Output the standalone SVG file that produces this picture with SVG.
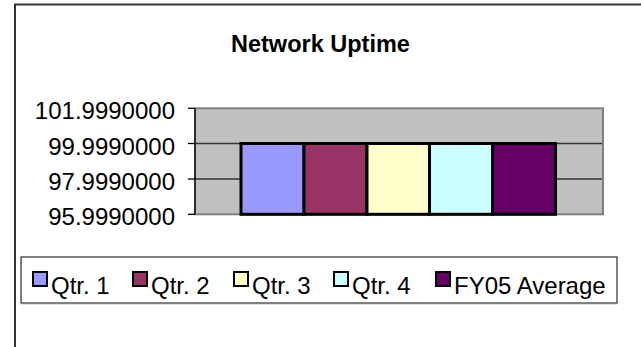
<svg xmlns="http://www.w3.org/2000/svg" width="641" height="347" viewBox="0 0 641 347">
<style>
text{font-family:"Liberation Sans",Arial,sans-serif;font-size:24px;fill:#000}
.title{font-weight:bold;font-size:23.5px}
.lbl{text-anchor:end}
.bar{stroke:#000;stroke-width:3}
.sw{stroke:#000;stroke-width:2}
.grid{stroke:#333;stroke-width:1.3}
.tick{stroke:#000;stroke-width:1.3}
</style>
<rect x="0" y="0" width="641" height="347" fill="#fff"/>
<g id="frame">
<path d="M15,347 V4.5 H641" fill="none" stroke="#333" stroke-width="2"/>
</g>
<g id="title"><text class="title" x="231" y="52">Network Uptime</text></g>
<g id="plot">
<rect x="195" y="108.3" width="408" height="106" fill="#C0C0C0" stroke="#808080" stroke-width="2"/>
<line class="grid" x1="195" y1="143.5" x2="602" y2="143.5"/>
<line class="grid" x1="195" y1="179" x2="602" y2="179"/>
</g>
<g id="axis">
<line class="tick" x1="195" y1="108.3" x2="195" y2="214.3"/>
<line class="tick" x1="188" y1="108.3" x2="195" y2="108.3"/>
<line class="tick" x1="188" y1="143.5" x2="195" y2="143.5"/>
<line class="tick" x1="188" y1="179" x2="195" y2="179"/>
<line class="tick" x1="188" y1="214.3" x2="195" y2="214.3"/>
<text class="lbl" x="175" y="119">101.9990000</text>
<text class="lbl" x="175" y="154.5">99.9990000</text>
<text class="lbl" x="175" y="190">97.9990000</text>
<text class="lbl" x="175" y="225">95.9990000</text>
</g>
<g id="bars">
<rect id="bar-q1" class="bar" x="241" y="143.5" width="63" height="70.8" fill="#9999FF"/>
<rect id="bar-q2" class="bar" x="304" y="143.5" width="63" height="70.8" fill="#993366"/>
<rect id="bar-q3" class="bar" x="367" y="143.5" width="62.5" height="70.8" fill="#FFFFCC"/>
<rect id="bar-q4" class="bar" x="429.5" y="143.5" width="63" height="70.8" fill="#CCFFFF"/>
<rect id="bar-fy05" class="bar" x="492.5" y="143.5" width="63" height="70.8" fill="#660066"/>
</g>
<g id="legend">
<rect x="21" y="257" width="596" height="46" fill="#fff" stroke="#000" stroke-width="1"/>
<line x1="21" y1="303.5" x2="617" y2="303.5" stroke="#808080" stroke-width="1.5"/>
<rect class="sw" x="33" y="272" width="14" height="14" fill="#9999FF"/>
<text x="51" y="294">Qtr. 1</text>
<rect class="sw" x="133" y="272" width="14" height="14" fill="#993366"/>
<text x="151" y="294">Qtr. 2</text>
<rect class="sw" x="234" y="272" width="14" height="14" fill="#FFFFCC"/>
<text x="252" y="294">Qtr. 3</text>
<rect class="sw" x="334" y="272" width="14" height="14" fill="#CCFFFF"/>
<text x="352" y="294">Qtr. 4</text>
<rect class="sw" x="436" y="272" width="14" height="14" fill="#660066"/>
<text x="454" y="294">FY05 Average</text>
</g>
</svg>
